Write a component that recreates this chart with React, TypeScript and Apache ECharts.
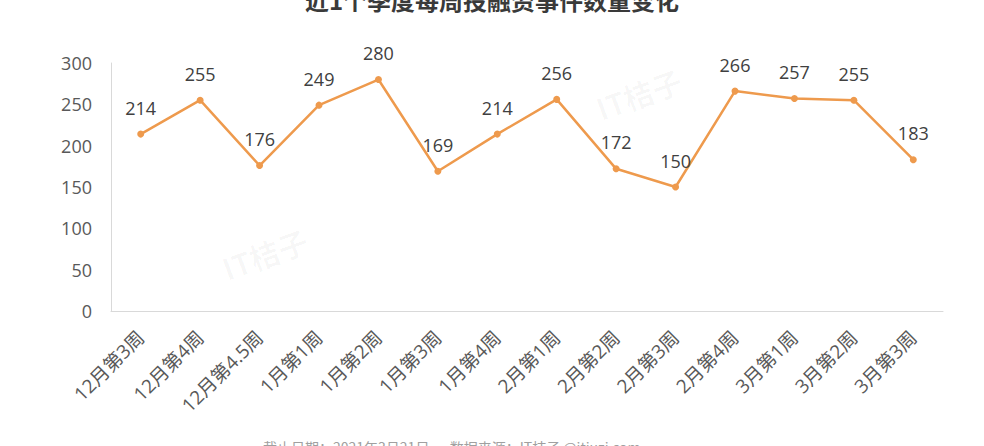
import React, { useEffect, useRef } from "react";
import * as echarts from "echarts";

const categories = [
  "12月第3周", "12月第4周", "12月第4.5周", "1月第1周", "1月第2周", "1月第3周", "1月第4周",
  "2月第1周", "2月第2周", "2月第3周", "2月第4周", "3月第1周", "3月第2周", "3月第3周",
];
const counts = [214, 255, 176, 249, 280, 169, 214, 256, 172, 150, 266, 257, 255, 183];
const yTicks = { min: 0, max: 300, interval: 50 };
const titleText = "近1个季度每周投融资事件数量变化";
const footerText = "截止日期：2021年3月21日 · 数据来源：IT桔子 @itjuzi.com";

const FONT = '"Open Sans", "Noto Sans CJK SC", sans-serif';

export default function App() {
  const ref = useRef<HTMLDivElement>(null);
  useEffect(() => {
    if (!ref.current) return;
    const chart = echarts.init(ref.current, undefined, { renderer: "svg" });
    chart.setOption({
      animation: false,
      backgroundColor: "#ffffff",
      textStyle: { fontFamily: FONT },
      grid: { left: 111, right: 41, top: 63, bottom: 135 },
      graphic: [
        {
          type: "text",
          left: "center",
          top: -13,
          style: {
            text: titleText,
            font: 'bold 24px "Noto Sans CJK SC", sans-serif',
            fill: "#3a3a3a",
          },
        },
        {
          type: "text",
          x: 263,
          y: 440,
          style: {
            text: footerText,
            font: '14px "Noto Sans CJK SC", sans-serif',
            fill: "#a0a0a0",
          },
        },
        {
          type: "text",
          x: 592,
          y: 95,
          rotation: 0.35,
          style: {
            text: "IT桔子",
            font: 'bold 30px "Noto Sans CJK SC", sans-serif',
            fill: "rgba(0,0,0,0.03)",
          },
        },
        {
          type: "text",
          x: 218,
          y: 255,
          rotation: 0.35,
          style: {
            text: "IT桔子",
            font: 'bold 30px "Noto Sans CJK SC", sans-serif',
            fill: "rgba(0,0,0,0.03)",
          },
        },
      ],
      xAxis: {
        type: "category",
        data: categories,
        boundaryGap: true,
        axisLine: { show: true, lineStyle: { color: "#d9d9d9", width: 1 } },
        axisTick: { show: false },
        axisLabel: {
          rotate: 45,
          interval: 0,
          margin: 23,
          fontSize: 19,
          color: "#595959",
          fontFamily: FONT,
        },
      },
      yAxis: {
        type: "value",
        min: yTicks.min,
        max: yTicks.max,
        interval: yTicks.interval,
        axisLine: { show: true, lineStyle: { color: "#d9d9d9", width: 1 } },
        axisTick: { show: false },
        splitLine: { show: false },
        axisLabel: { fontSize: 18, color: "#595959", margin: 19, fontFamily: FONT },
      },
      series: [
        {
          type: "line",
          data: counts,
          symbol: "circle",
          symbolSize: 7,
          lineStyle: { color: "#ee9a4d", width: 2.5 },
          itemStyle: { color: "#ee9a4d" },
          label: {
            show: true,
            position: "top",
            distance: 14,
            fontSize: 18,
            color: "#404040",
            fontFamily: FONT,
          },
        },
      ],
    });
    return () => chart.dispose();
  }, []);
  return (
    <div
      ref={ref}
      style={{ position: "absolute", left: 0, top: 0, width: 984, height: 446 }}
    />
  );
}
